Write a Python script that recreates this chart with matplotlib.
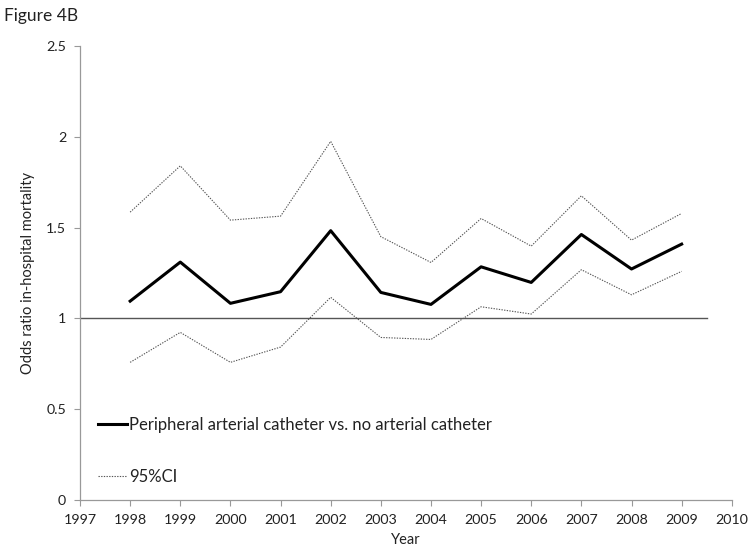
import matplotlib
matplotlib.use("Agg")
import matplotlib.pyplot as plt
from matplotlib.ticker import FuncFormatter

plt.rcParams['font.family'] = ['Lato', 'DejaVu Sans']

# data
years = [1998, 1999, 2000, 2001, 2002, 2003, 2004, 2005, 2006, 2007, 2008, 2009]
odds = [1.095, 1.31, 1.083, 1.147, 1.483, 1.143, 1.077, 1.284, 1.198, 1.462, 1.272, 1.409]
upper = [1.585, 1.84, 1.541, 1.563, 1.975, 1.45, 1.308, 1.55, 1.398, 1.675, 1.431, 1.578]
lower = [0.758, 0.923, 0.758, 0.842, 1.116, 0.895, 0.884, 1.064, 1.024, 1.268, 1.13, 1.259]
xticks = list(range(1997, 2011))
yticks = [0, 0.5, 1, 1.5, 2, 2.5]

fig = plt.figure(figsize=(7.5, 5.52), dpi=100)
ax = fig.add_axes([0.1067, 0.0942, 0.869, 0.8225])

# reference line at OR = 1
ax.plot([1997, 2009.5], [1, 1], color='#555555', lw=1.0)

ax.plot(years, odds, color='black', lw=2.2,
        label='Peripheral arterial catheter vs. no arterial catheter')
ax.plot(years, upper, color='#555555', lw=0.8, ls=(0, (1.2, 1.2)), label='95%CI')
ax.plot(years, lower, color='#555555', lw=0.8, ls=(0, (1.2, 1.2)))

ax.set_xlim(1997, 2010)
ax.set_ylim(0, 2.5)
ax.set_xticks(xticks)
ax.set_yticks(yticks)
ax.yaxis.set_major_formatter(FuncFormatter(lambda v, p: '%g' % v))

for s in ['top', 'right']:
    ax.spines[s].set_visible(False)
for s in ['left', 'bottom']:
    ax.spines[s].set_color('#999999')
    ax.spines[s].set_linewidth(0.9)
ax.tick_params(axis='both', direction='out', length=4, color='#999999',
               labelsize=10.3, labelcolor='#222222', pad=6)

ax.set_xlabel('Year', fontsize=10.5, color='#222222', labelpad=5)
ax.set_ylabel('Odds ratio in-hospital mortality', fontsize=10.5, color='#222222', labelpad=8)

leg = ax.legend(loc='lower left', bbox_to_anchor=(0.005, 0.0), frameon=False,
                fontsize=12, labelspacing=2.15, handlelength=1.7, handletextpad=0.15)
for t in leg.get_texts():
    t.set_color('#222222')

fig.text(0.005, 0.985, 'Figure 4B', fontsize=12.5, color='#222222', va='top', ha='left')

fig.savefig('out.png', dpi=100)
